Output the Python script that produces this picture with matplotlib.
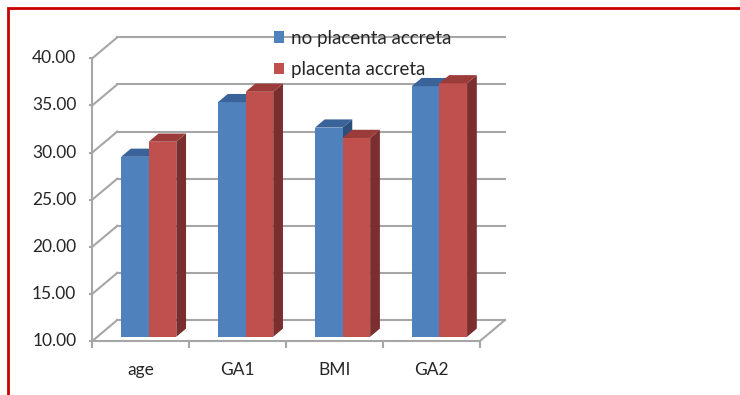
import matplotlib
matplotlib.use("Agg")
import matplotlib.pyplot as plt
import matplotlib.patches as mpatches
import numpy as np

# Group means for each measure
CATEGORIES = ["age", "GA1", "BMI", "GA2"]
NO_ACCRETA = [29.1, 34.9, 32.2, 36.6]
ACCRETA = [30.7, 36.0, 31.1, 36.9]
SERIES_NAMES = ["no placenta accreta", "placenta accreta"]
Y_TICKS = [10, 15, 20, 25, 30, 35, 40]

# Canvas, in pixels
W, H, DPI = 740, 395, 100
AX_LEFT_PX, AX_RIGHT_PX = 92.3, 480.0        # front floor edge
Y10_PX, Y40_PX = 341.0, 58.3                 # front axis: value 10 and 40
DEPTH_DX_PX, DEPTH_DY_PX = 25.0, 21.0        # front-to-back wall offset

# Bar geometry (category units / fraction of full depth)
BAR_W = 0.285
BAR_FRONT, BAR_BACK = 0.20, 0.59
BAR_SHIFT = 0.03

FRONT_COLORS = ["#4F81BD", "#C0504D"]
TOP_COLORS = ["#3A639A", "#9B3C3A"]
SIDE_COLORS = ["#2E4F7C", "#7A2E2E"]
GRID_COLOR = "#A6A6A6"
TEXT_COLOR = "#262626"
LABEL_SIZE = 12.5

plt.rcParams["font.family"] = ["Lato", "DejaVu Sans"]

n = len(CATEGORIES)
x_scale = (AX_RIGHT_PX - AX_LEFT_PX) / n          # px per category
y_scale = (Y10_PX - Y40_PX) / (Y_TICKS[-1] - Y_TICKS[0])   # px per value unit
DX = DEPTH_DX_PX / x_scale
DY = DEPTH_DY_PX / y_scale

fig = plt.figure(figsize=(W / DPI, H / DPI), dpi=DPI)
ax = fig.add_axes([0, 0, 1, 1])
x0 = -0.5 - AX_LEFT_PX / x_scale
ax.set_xlim(x0, x0 + W / x_scale)
y0 = Y_TICKS[0] - (H - Y10_PX) / y_scale
ax.set_ylim(y0, y0 + H / y_scale)
ax.axis("off")


def P(x, v, d):
    """Project (category x, value v, depth fraction d) to axes data coords."""
    return x + d * DX, v + d * DY


xl, xr = -0.5, n - 0.5
vmin, vmax = Y_TICKS[0], Y_TICKS[-1]
glw = 1.5

# back-wall gridlines and left side-wall diagonals
for t in Y_TICKS:
    a, b = P(xl, t, 1), P(xr, t, 1)
    ax.plot([a[0], b[0]], [a[1], b[1]], color=GRID_COLOR, lw=glw, zorder=1)
    c = P(xl, t, 0)
    ax.plot([c[0], a[0]], [c[1], a[1]], color=GRID_COLOR, lw=glw, zorder=1)
    # tick on the front axis
    ax.plot([c[0] - 2.5 / x_scale, c[0]], [c[1], c[1]], color=GRID_COLOR, lw=glw, zorder=1)
    ax.text(c[0] - 16 / x_scale, c[1], f"{t:.2f}", ha="right", va="center",
            fontsize=LABEL_SIZE, color=TEXT_COLOR)

# front axis, floor front edge and right floor diagonal
a, b = P(xl, vmin, 0), P(xl, vmax, 0)
ax.plot([a[0], b[0]], [a[1], b[1]], color=GRID_COLOR, lw=glw, zorder=1)
a, b = P(xl, vmin, 0), P(xr, vmin, 0)
ax.plot([a[0], b[0]], [a[1], b[1]], color=GRID_COLOR, lw=glw, zorder=1)
a, b = P(xr, vmin, 0), P(xr, vmin, 1)
ax.plot([a[0], b[0]], [a[1], b[1]], color=GRID_COLOR, lw=glw, zorder=1)
for k in range(n + 1):
    c = P(xl + k, vmin, 0)
    ax.plot([c[0], c[0]], [c[1], c[1] - 6 / y_scale], color=GRID_COLOR, lw=glw, zorder=1)

for i, cat in enumerate(CATEGORIES):
    c = P(i, vmin, 0)
    ax.text(c[0], c[1] - 29 / y_scale, cat, ha="center", va="center",
            fontsize=LABEL_SIZE, color=TEXT_COLOR)


def bar3d(xa, xb, v, k, z):
    f = BAR_FRONT
    bk = BAR_BACK
    side = [P(xb, vmin, f), P(xb, vmin, bk), P(xb, v, bk), P(xb, v, f)]
    front = [P(xa, vmin, f), P(xb, vmin, f), P(xb, v, f), P(xa, v, f)]
    top = [P(xa, v, f), P(xb, v, f), P(xb, v, bk), P(xa, v, bk)]
    ax.add_patch(mpatches.Polygon(side, closed=True, fc=SIDE_COLORS[k], ec="none", zorder=z))
    ax.add_patch(mpatches.Polygon(front, closed=True, fc=FRONT_COLORS[k], ec="none", zorder=z + 0.1))
    ax.add_patch(mpatches.Polygon(top, closed=True, fc=TOP_COLORS[k], ec="none", zorder=z + 0.2))


for i in range(n):
    for k, vals in enumerate([NO_ACCRETA, ACCRETA]):
        xa = i + BAR_SHIFT + (k - 1) * BAR_W
        bar3d(xa, xa + BAR_W, vals[i], k, 2 + i + k * 0.5)

handles = [mpatches.Patch(facecolor=FRONT_COLORS[k], edgecolor="none", label=SERIES_NAMES[k])
           for k in range(2)]
leg = ax.legend(handles=handles, loc="upper left",
                bbox_to_anchor=(274 / W, 1 - 30 / H), frameon=False,
                fontsize=13.5, handlelength=0.55, handleheight=0.6,
                handletextpad=0.35, labelspacing=0.75, borderaxespad=0, borderpad=0)
for t in leg.get_texts():
    t.set_color(TEXT_COLOR)
leg.set_zorder(20)

# outer red frame (extends past the right and bottom edges)
fig.patches.append(mpatches.Rectangle((7.5 / W, -0.1), 1.2, 1 - 7.5 / H + 0.1,
                                      transform=fig.transFigure, fill=False,
                                      ec="#CC0000", lw=2))

fig.savefig("out.png", dpi=DPI)
